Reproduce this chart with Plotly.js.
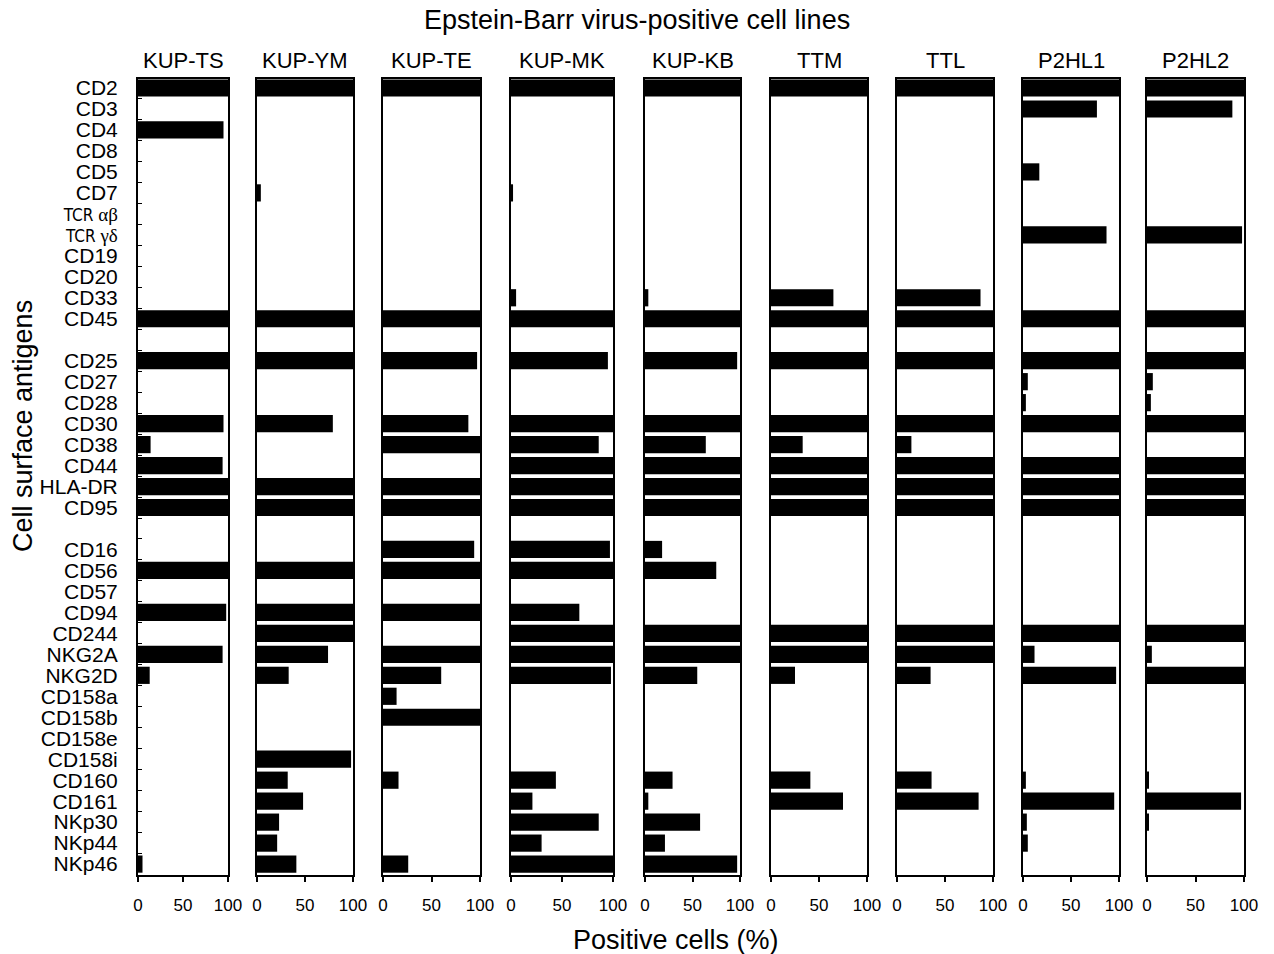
<!DOCTYPE html>
<html>
<head>
<meta charset="utf-8">
<script src="https://cdn.plot.ly/plotly-3.0.1.min.js"></script>
<style>html,body{margin:0;padding:0;background:#fff}</style>
</head>
<body>
<div id="chart" style="width:1274px;height:954px"></div>
<script>
// Cell lines (one panel each)
const cellLines = ['KUP-TS', 'KUP-YM', 'KUP-TE', 'KUP-MK', 'KUP-KB', 'TTM', 'TTL', 'P2HL1', 'P2HL2'];

// Antigen groups, drawn top to bottom with a blank row between groups
const lineageMarkers = ['CD2', 'CD3', 'CD4', 'CD8', 'CD5', 'CD7', 'TCR αβ', 'TCR γδ', 'CD19', 'CD20', 'CD33', 'CD45'];
const activationMarkers = ['CD25', 'CD27', 'CD28', 'CD30', 'CD38', 'CD44', 'HLA-DR', 'CD95'];
const nkMarkers = ['CD16', 'CD56', 'CD57', 'CD94', 'CD244', 'NKG2A', 'NKG2D', 'CD158a', 'CD158b',
                   'CD158e', 'CD158i', 'CD160', 'CD161', 'NKp30', 'NKp44', 'NKp46'];

// Positive cells (%) per antigen, in the order lineage, activation, NK markers
const kupTS = [100, 0, 95, 0, 0, 0, 0, 0, 0, 0, 0, 100,
               100, 0, 0, 95, 14, 94, 100, 100,
               0, 100, 0, 98, 0, 94, 13, 0, 0, 0, 0, 0, 0, 0, 0, 5];
const kupYM = [100, 0, 0, 0, 0, 4, 0, 0, 0, 0, 0, 100,
               100, 0, 0, 79, 0, 0, 100, 100,
               0, 100, 0, 100, 100, 74, 33, 0, 0, 0, 98, 32, 48, 23, 21, 41];
const kupTE = [100, 0, 0, 0, 0, 0, 0, 0, 0, 0, 0, 100,
               97, 0, 0, 88, 100, 0, 100, 100,
               94, 100, 0, 100, 0, 100, 60, 14, 100, 0, 0, 16, 0, 0, 0, 26];
const kupMK = [100, 0, 0, 0, 0, 2, 0, 0, 0, 0, 5, 100,
               95, 0, 0, 100, 86, 100, 100, 100,
               97, 100, 0, 67, 100, 100, 98, 0, 0, 0, 0, 44, 21, 86, 30, 100];
const kupKB = [100, 0, 0, 0, 0, 0, 0, 0, 0, 0, 3.5, 100,
               97, 0, 0, 100, 64, 100, 100, 100,
               18, 75, 0, 0, 100, 100, 55, 0, 0, 0, 0, 29, 3.5, 58, 21, 97];
const ttm   = [100, 0, 0, 0, 0, 0, 0, 0, 0, 0, 65, 100,
               100, 0, 0, 100, 33, 100, 100, 100,
               0, 0, 0, 0, 100, 100, 25, 0, 0, 0, 0, 41, 75, 0, 0, 0];
const ttl   = [100, 0, 0, 0, 0, 0, 0, 0, 0, 0, 87, 100,
               100, 0, 0, 100, 15, 100, 100, 100,
               0, 0, 0, 0, 100, 100, 35, 0, 0, 0, 0, 36, 85, 0, 0, 0];
const p2hl1 = [100, 77, 0, 0, 17, 0, 0, 87, 0, 0, 0, 100,
               100, 5, 3, 100, 0, 100, 100, 100,
               0, 0, 0, 0, 100, 12, 97, 0, 0, 0, 0, 3, 95, 4, 5, 0];
const p2hl2 = [100, 88, 0, 0, 0, 0, 0, 98, 0, 0, 0, 100,
               100, 6, 4, 100, 0, 100, 100, 100,
               0, 0, 0, 0, 100, 5, 100, 0, 0, 0, 0, 1.5, 97, 1.5, 0, 0];

const xTickVals = [0, 50, 100];

// ---------- assembly ----------
const seriesByLine = [kupTS, kupYM, kupTE, kupMK, kupKB, ttm, ttl, p2hl1, p2hl2];
const antigens = [...lineageMarkers, ...activationMarkers, ...nkMarkers];
// spacer categories keep an empty row between the three groups
const rowOrder = [...lineageMarkers, ' ', ...activationMarkers, '  ', ...nkMarkers];

const FONT = "'Liberation Sans', Arial, Helvetica, sans-serif";
const tcrLabel = g => '<span style="font-family:\'Liberation Sans Narrow\',\'DejaVu Sans Condensed\',sans-serif;font-size:17px">TCR </span>' +
                      '<span style="font-family:\'Liberation Serif\',serif;font-size:19px">' + g + '</span>';
const rowText = rowOrder.map(n => n === 'TCR αβ' ? tcrLabel('αβ') : n === 'TCR γδ' ? tcrLabel('γδ') : n);

const W = 1274, H = 954;
const panelPx = [[138, 228], [257, 353], [383, 480], [511, 613], [645, 740],
                 [771, 867], [897, 993], [1023, 1119], [1147, 1244]];
const yDomain = [1 - 875 / H, 1 - 79 / H];

const traces = [];
const layout = {
  width: W, height: H,
  margin: {l: 0, r: 0, t: 0, b: 0},
  paper_bgcolor: '#fff', plot_bgcolor: '#fff',
  showlegend: false,
  font: {family: FONT, color: '#000'},
  annotations: []
};

seriesByLine.forEach((vals, i) => {
  const sx = i === 0 ? '' : String(i + 1);
  traces.push({
    type: 'bar', orientation: 'h',
    x: vals, y: antigens,
    xaxis: 'x' + sx, yaxis: 'y' + sx,
    width: 0.82,
    marker: {color: '#000', line: {width: 0}},
    hovertemplate: '%{y}: %{x}%<extra>' + cellLines[i] + '</extra>'
  });
  const [p0, p1] = panelPx[i];
  layout['xaxis' + sx] = {
    domain: [p0 / W, p1 / W], anchor: 'y' + sx,
    range: [0, 100], tickmode: 'array', tickvals: xTickVals,
    ticks: 'outside', ticklen: 5, tickwidth: 1.5, tickcolor: '#000',
    showline: true, mirror: true, linecolor: '#000', linewidth: 2,
    showgrid: false, zeroline: false, fixedrange: true,
    tickfont: {size: 17, family: FONT, color: '#000'},
    ticklabelstandoff: 9
  };
  layout['yaxis' + sx] = {
    domain: yDomain, anchor: 'x' + sx,
    type: 'category', categoryorder: 'array', categoryarray: rowOrder,
    range: [rowOrder.length - 0.48, -0.43],
    showline: true, mirror: true, linecolor: '#000', linewidth: 2,
    showgrid: false, zeroline: false, fixedrange: true,
    showticklabels: i === 0,
    tickmode: 'array', tickvals: rowOrder, ticktext: rowText,
    tickson: 'boundaries',
    ticks: i === 0 ? 'inside' : '', ticklen: 4, tickwidth: 1, tickcolor: '#000',
    tickfont: {size: 21, family: FONT, color: '#000'},
    ticklabelstandoff: 14
  };
  layout.annotations.push({
    xref: 'paper', yref: 'paper', x: (p0 + p1) / 2 / W, y: 1 - 61 / H,
    xanchor: 'center', yanchor: 'middle', showarrow: false,
    text: cellLines[i], font: {size: 22, family: FONT, color: '#000'}
  });
});

layout.annotations.push(
  {xref: 'paper', yref: 'paper', x: 637 / W, y: 1 - 20 / H, xanchor: 'center', yanchor: 'middle',
   showarrow: false, text: 'Epstein-Barr virus-positive cell lines', font: {size: 27, family: FONT, color: '#000'}},
  {xref: 'paper', yref: 'paper', x: 676 / W, y: 1 - 940 / H, xanchor: 'center', yanchor: 'middle',
   showarrow: false, text: 'Positive cells (%)', font: {size: 27, family: FONT, color: '#000'}},
  {xref: 'paper', yref: 'paper', x: 23 / W, y: 1 - 426 / H, xanchor: 'center', yanchor: 'middle',
   textangle: -90, showarrow: false, text: 'Cell surface antigens', font: {size: 27, family: FONT, color: '#000'}}
);

Plotly.newPlot('chart', traces, layout, {displayModeBar: false, staticPlot: false});
</script>
</body>
</html>
